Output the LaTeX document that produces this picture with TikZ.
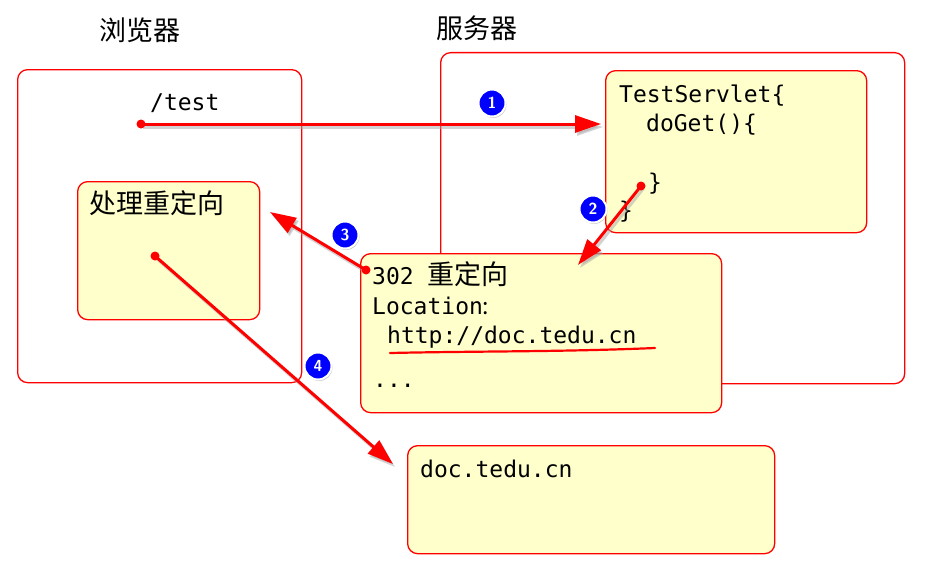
\documentclass[tikz,border=0pt]{standalone}
\usepackage{fontspec}
\setmonofont{DejaVu Sans Mono}
\newfontfamily\cjk{Noto Sans CJK SC}
\usetikzlibrary{arrows.meta,shadows}
\definecolor{boxyellow}{HTML}{FFFFCC}
\tikzset{
  frame/.style={draw=red, line width=1.3pt, rounded corners=10pt, fill=white},
  ybox/.style={draw=red, line width=1.3pt, rounded corners=10pt, fill=boxyellow},
  code/.style={anchor=base west, inner sep=0pt, font=\fontsize{23}{26}\selectfont\ttfamily},
  cn/.style={anchor=base west, inner sep=0pt, font=\fontsize{27}{30}\selectfont\cjk},
  arr/.style={draw=red, line width=3pt, -{Triangle[length=26pt,width=17pt]},
    preaction={draw=black!35, opacity=0.5, line width=3pt, transform canvas={shift={(2pt,-3pt)}}}},
  dot/.style={circle, fill=red, inner sep=0pt, minimum size=9pt},
  badge/.style={circle, fill=blue, draw=white, line width=2pt, inner sep=0pt, minimum size=27pt,
    text=white, font=\fontsize{16}{16}\selectfont\sffamily\bfseries, drop shadow={opacity=0.4,shadow xshift=1pt,shadow yshift=-1.5pt}}
}
\begin{document}
\begin{tikzpicture}[x=1pt,y=-1pt]
\useasboundingbox (0,0) rectangle (941,586);
% outer frames
\node[frame, minimum width=284pt, minimum height=313pt, anchor=north west] (browser) at (17,69) {};
\node[frame, minimum width=464pt, minimum height=331pt, anchor=north west] (server) at (440,52) {};
% titles
\node[cn] (tb) at (99,41) {浏览器};
\node[cn] (ts) at (436,38) {服务器};
% yellow boxes
\node[ybox, minimum width=261pt, minimum height=162pt, anchor=north west] (servlet) at (605,70) {};
\node[ybox, minimum width=182pt, minimum height=138pt, anchor=north west] (proc) at (77,181) {};
\node[ybox, minimum width=361pt, minimum height=159pt, anchor=north west] (resp) at (360,253) {};
\node[ybox, minimum width=367pt, minimum height=108pt, anchor=north west] (doc) at (407,445) {};
% texts
\node[code] (test) at (150,110) {/test};
\node[code] (l1) at (619,102) {TestServlet\{};
\node[code] (l2) at (646,131) {doGet()\{};
\node[code] (l3) at (648,190) {\}};
\node[code] (l4) at (619,218) {\}};
\node[cn] (ptxt) at (89,213) {处理重定向};
\node[code] (r1) at (372,284) {302 {\cjk\fontsize{27}{30}\selectfont 重定向}};
\node[code] (r2) at (372,314) {Location{\cjk :}};
\node[code] (r3) at (387,343) {http://doc.tedu.cn};
\node[code] (r4) at (373,387) {...};
\node[code] (dtxt) at (420,477) {doc.tedu.cn};
% underline
\coordinate (u1) at (390,353);
\coordinate (u2) at (655,348);
\draw[red, line width=2.2pt, line cap=round] (u1) .. controls (480,351) and (560,352) .. (u2);
% arrows
\coordinate (s1) at (141,124); \coordinate (e1) at (601,124);
\coordinate (s2) at (641,186); \coordinate (e2) at (578,265);
\coordinate (s3) at (366,270); \coordinate (e3) at (270,212);
\coordinate (s4) at (155,256); \coordinate (e4) at (393,464);
\draw[arr] (s1) -- (e1);
\draw[arr] (s2) -- (e2);
\draw[arr] (s3) -- (e3);
\draw[arr] (s4) -- (e4);
\node[dot] (d1) at (s1) {};
\node[dot] (d2) at (s2) {};
\node[dot] (d3) at (s3) {};
\node[dot] (d4) at (s4) {};
% badges
\node[badge] (b1) at (492,103) {1};
\node[badge] (b2) at (593,209) {2};
\node[badge] (b3) at (345,235) {3};
\node[badge] (b4) at (318,366) {4};
\end{tikzpicture}
\end{document}
